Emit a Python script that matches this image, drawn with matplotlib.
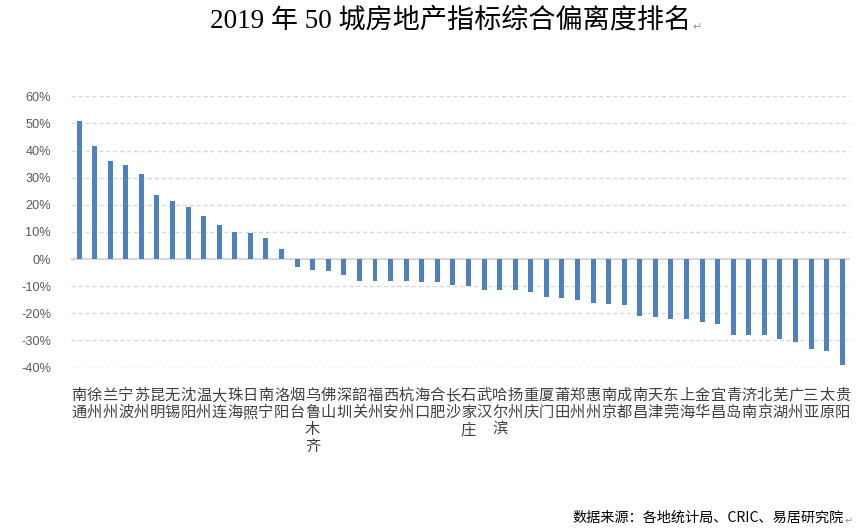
import matplotlib
matplotlib.use("Agg")
import matplotlib.pyplot as plt
from matplotlib.ticker import FuncFormatter, MultipleLocator

cities = ["南通", "徐州", "兰州", "宁波", "苏州", "昆明", "无锡", "沈阳", "温州", "大连",
          "珠海", "日照", "南宁", "洛阳", "烟台", "乌鲁木齐", "佛山", "深圳", "韶关", "福州",
          "西安", "杭州", "海口", "合肥", "长沙", "石家庄", "武汉", "哈尔滨", "扬州", "重庆",
          "厦门", "莆田", "郑州", "惠州", "南京", "成都", "南昌", "天津", "东莞", "上海",
          "金华", "宜昌", "青岛", "济南", "北京", "芜湖", "广州", "三亚", "太原", "贵阳"]
values = [50.9, 41.6, 36.1, 34.6, 31.3, 23.6, 21.4, 19.2, 15.8, 12.5,
          10.1, 9.6, 7.7, 3.7, -2.9, -3.9, -4.5, -5.7, -7.9, -7.9,
          -7.9, -8.2, -8.6, -8.6, -9.7, -10.1, -11.5, -11.5, -11.5, -12.3,
          -13.8, -14.5, -15.2, -16.3, -16.7, -17.1, -21.1, -21.5, -21.9, -21.9,
          -23.3, -24.1, -27.8, -28.1, -28.1, -29.6, -30.7, -33.3, -34.0, -39.2]

title = "2019 年 50 城房地产指标综合偏离度排名"
source = "数据来源：各地统计局、CRIC、易居研究院"

cjk = ["Noto Sans CJK SC", "DejaVu Sans"]

fig = plt.figure(figsize=(8.63, 5.32), dpi=100)
ax = fig.add_axes([0.0817, 0.309, 0.985 - 0.0817, 0.819 - 0.309])

x = list(range(len(cities)))
ax.bar(x, values, width=0.32, color="#4F81BD", zorder=3)

ax.set_ylim(-40, 60)
ax.set_xlim(-0.55, len(cities) - 0.5)
ax.yaxis.set_major_locator(MultipleLocator(10))
ax.yaxis.set_major_formatter(FuncFormatter(lambda v, p: f"{v:.0f}%"))
ax.tick_params(axis="y", length=0, pad=14, labelsize=9.2, labelcolor="#595959")
for lab in ax.get_yticklabels():
    lab.set_family(["Liberation Sans"])

ax.set_xticks(x)
ax.set_xticklabels(["\n".join(c) for c in cities], family=cjk, fontsize=11,
                   color="#404040", linespacing=1.0, va="top")
ax.tick_params(axis="x", length=0, pad=14)

for s in ax.spines.values():
    s.set_visible(False)

ax.yaxis.grid(True, linestyle=(0, (3, 2)), color="#d9d9d9", linewidth=1, zorder=0)
ax.axhline(0, color="#d9d9d9", linewidth=1.5, zorder=2)

t = fig.text(0.522, 0.962, title, ha="center", va="center", fontsize=19.5,
             family=["Liberation Serif", "Noto Sans CJK SC"], color="black")
s = fig.text(0.978, 0.026, source, ha="right", va="center", fontsize=10.2,
             family=cjk, color="black")
fig.canvas.draw()
r = fig.canvas.get_renderer()
tb = t.get_window_extent(r)
sb = s.get_window_extent(r)
W, H = fig.get_size_inches() * fig.dpi
fig.text(tb.x1 / W + 0.002, tb.y0 / H + 0.012, "↵", ha="left", va="center", fontsize=8,
         color="#999999", family=["DejaVu Sans"])
fig.text(sb.x1 / W + 0.001, sb.y0 / H + 0.008, "↵", ha="left", va="center", fontsize=7,
         color="#999999", family=["DejaVu Sans"])

fig.savefig("out.png", dpi=100)
